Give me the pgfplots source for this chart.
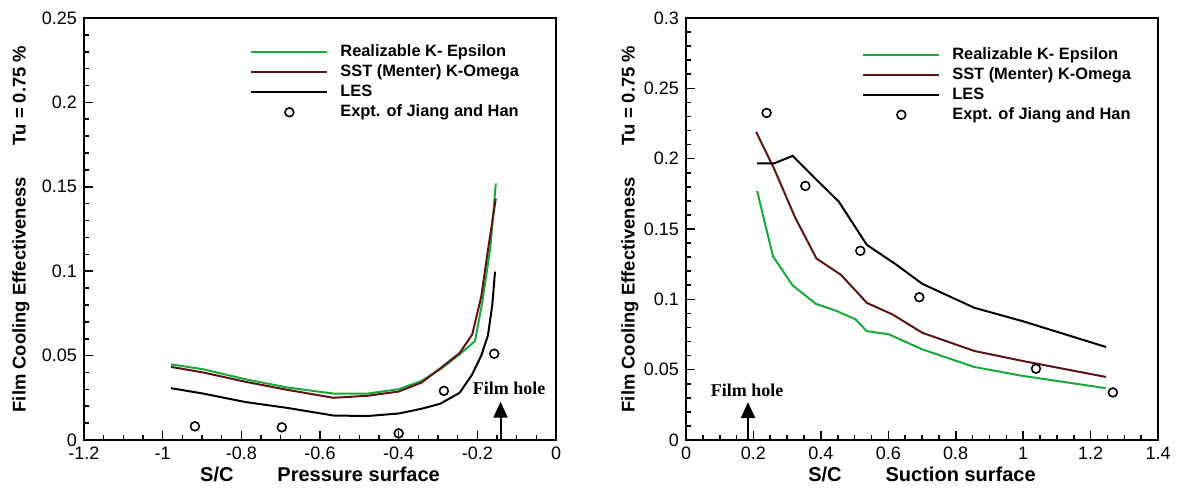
\documentclass[border=0pt]{standalone}
\usepackage{fontspec}
\setmainfont{Liberation Sans}
\newfontfamily\filmfont{Liberation Serif}
\usepackage{pgfplots}
\pgfplotsset{compat=1.18}
\usetikzlibrary{arrows.meta}
\definecolor{kegreen}{RGB}{25,170,60}
\definecolor{sstred}{RGB}{95,20,20}

\pgfplotsset{
  myaxis/.style={
    scale only axis, width=236pt, height=211pt,
    axis lines=box, clip=false,
    axis background/.style={draw=black, line width=1.2pt},
    axis line style={line width=1pt, black},
    xtick pos=bottom, ytick pos=left, tick align=inside,
    major tick length=4.5pt, minor tick length=2.7pt,
    every tick/.style={black, line width=0.8pt},
    minor x tick num=3, minor y tick num=4,
    tick label style={font=\fontsize{9}{10}\selectfont},
    /pgf/number format/assume math mode=true,
    scaled ticks=false,
    xlabel style={font=\bfseries\fontsize{10}{12}\selectfont, at={(axis description cs:0.5,0)}, anchor=center, yshift=-17pt},
    ylabel style={font=\bfseries\fontsize{9.2}{11}\selectfont, at={(axis description cs:0,0.5)}, anchor=center},
    ylabel={Film Cooling Effectiveness\hspace{16pt}Tu = 0.75 \%},
    legend cell align=left,
    legend style={draw=none, fill=none, font=\bfseries\fontsize{8.2}{9}\selectfont,
      column sep=6pt, row sep=2.5pt,
      nodes={inner sep=0pt, text height=6pt, text depth=1.5pt}},
    lineleg/.style={legend image code/.code={\draw[##1] (0pt,0pt) -- (38pt,0pt);}},
    markleg/.style={legend image code/.code={\draw[##1] plot coordinates {(19pt,0pt)};}},
  },
  curve/.style={line width=1pt},
  expt/.style={only marks, mark=o, mark size=2.2pt, black, mark options={line width=0.8pt}},
}

\begin{document}
\begin{tikzpicture}
\path (0,0) rectangle (591pt,243pt);

\begin{axis}[myaxis, name=L, at={(42pt,23pt)}, anchor=south west,
  xmin=-1.2, xmax=0, ymin=0, ymax=0.25,
  xtick={-1.2,-1,-0.8,-0.6,-0.4,-0.2,0},
  xticklabels={-1.2,-1,-0.8,-0.6,-0.4,-0.2,0},
  ytick={0,0.05,0.1,0.15,0.2,0.25},
  yticklabels={0,0.05,0.1,0.15,0.2,0.25},
  xlabel={S/C\hspace{22pt}Pressure surface},
  every axis y label/.append style={yshift=31.5pt},
  legend style={at={(rel axis cs:0.339,0.947)}, anchor=north west}]
\addplot[curve, kegreen, lineleg] coordinates {
(-0.979,0.0448) (-0.897,0.0419) (-0.79,0.0360) (-0.683,0.0311) (-0.566,0.0275)
(-0.479,0.0275) (-0.40,0.0301) (-0.342,0.0350) (-0.294,0.0419) (-0.245,0.0507)
(-0.206,0.0586) (-0.187,0.0822) (-0.167,0.114) (-0.153,0.152)};
\addlegendentry{Realizable K- Epsilon}
\addplot[curve, sstred, lineleg] coordinates {
(-0.979,0.0433) (-0.897,0.0400) (-0.79,0.0345) (-0.683,0.0297) (-0.566,0.0250)
(-0.479,0.0262) (-0.40,0.0287) (-0.342,0.0340) (-0.294,0.0425) (-0.245,0.0515)
(-0.213,0.0625) (-0.19,0.085) (-0.173,0.1125) (-0.153,0.143)};
\addlegendentry{SST (Menter) K-Omega}
\addplot[curve, black, lineleg] coordinates {
(-0.979,0.0307) (-0.897,0.0275) (-0.79,0.0225) (-0.683,0.0190) (-0.566,0.0145)
(-0.479,0.0142) (-0.40,0.0157) (-0.342,0.0185) (-0.294,0.0215) (-0.245,0.0280)
(-0.214,0.0385) (-0.19,0.050) (-0.173,0.062) (-0.162,0.080) (-0.155,0.0997)};
\addlegendentry{LES}
\addplot[expt, markleg] coordinates {
(-0.918,0.0081) (-0.697,0.0075) (-0.40,0.0039) (-0.285,0.0291) (-0.157,0.0511)};
\addlegendentry{Expt. of Jiang and Han}
\draw[line width=1pt, -{Triangle[width=7pt,length=8pt]}] (axis cs:-0.141,0) -- (axis cs:-0.141,0.0227);
\node[font=\filmfont\bfseries\fontsize{9}{10}\selectfont] at (axis cs:-0.119,0.0308) {Film hole};
\draw[line width=1.2pt, black] (rel axis cs:0,1) -- (rel axis cs:1,1) -- (rel axis cs:1,0);
\end{axis}

\begin{axis}[myaxis, name=R, at={(343pt,23pt)}, anchor=south west,
  xmin=0, xmax=1.4, ymin=0, ymax=0.3,
  xtick={0,0.2,0.4,0.6,0.8,1,1.2,1.4},
  xticklabels={0,0.2,0.4,0.6,0.8,1,1.2,1.4},
  ytick={0,0.05,0.1,0.15,0.2,0.25,0.3},
  yticklabels={0,0.05,0.1,0.15,0.2,0.25,0.3},
  xlabel={S/C\hspace{22pt}Suction surface},
  every axis y label/.append style={yshift=28pt},
  legend style={at={(rel axis cs:0.36,0.941)}, anchor=north west}]
\addplot[curve, kegreen, lineleg] coordinates {
(0.211,0.177) (0.258,0.1305) (0.316,0.110) (0.385,0.0968) (0.448,0.0916)
(0.503,0.0857) (0.536,0.0774) (0.602,0.0751) (0.701,0.0644) (0.855,0.0519)
(0.998,0.0456) (1.246,0.0368)};
\addlegendentry{Realizable K- Epsilon}
\addplot[curve, sstred, lineleg] coordinates {
(0.208,0.219) (0.261,0.193) (0.324,0.158) (0.387,0.129) (0.459,0.1175)
(0.514,0.1034) (0.536,0.0975) (0.613,0.0892) (0.701,0.0762) (0.855,0.0633)
(0.998,0.0562) (1.246,0.0448)};
\addlegendentry{SST (Menter) K-Omega}
\addplot[curve, black, lineleg] coordinates {
(0.211,0.1966) (0.261,0.1966) (0.316,0.202) (0.393,0.1836) (0.453,0.1695)
(0.536,0.1388) (0.624,0.1246) (0.701,0.111) (0.855,0.094) (0.998,0.0845)
(1.246,0.0661)};
\addlegendentry{LES}
\addplot[expt, markleg] coordinates {
(0.239,0.2325) (0.354,0.1806) (0.517,0.1345) (0.692,0.1015) (1.038,0.0507) (1.266,0.0338)};
\addlegendentry{Expt. of Jiang and Han}
\draw[line width=1pt, -{Triangle[width=7pt,length=8pt]}] (axis cs:0.184,0) -- (axis cs:0.184,0.027);
\node[font=\filmfont\bfseries\fontsize{9}{10}\selectfont] at (axis cs:0.181,0.0355) {Film hole};
\draw[line width=1.2pt, black] (rel axis cs:0,1) -- (rel axis cs:1,1) -- (rel axis cs:1,0);
\end{axis}
\end{tikzpicture}
\end{document}
